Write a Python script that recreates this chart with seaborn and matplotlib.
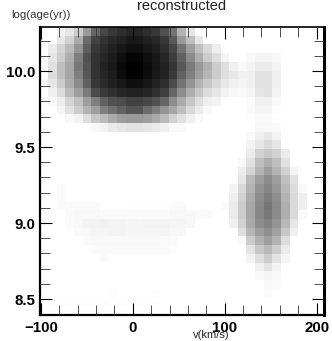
import numpy as np
import pandas as pd
import matplotlib
matplotlib.use("Agg")
import matplotlib.pyplot as plt
import seaborn as sns

sns.set_style("white")
plt.rcParams['font.family'] = ['Liberation Sans', 'DejaVu Sans']

title = "reconstructed"
x_label = "v(km/s)"
y_label = "log(age(yr))"
x_major = [-100, 0, 100, 200]
x_major_labels = ["\u2212100", "0", "100", "200"]
y_major = [8.5, 9.0, 9.5, 10.0]
y_major_labels = ["8.5", "9.0", "9.5", "10.0"]
x_minor = [-80, -60, -40, -20, 20, 40, 60, 80, 120, 140, 160, 180]
y_minor = [8.6, 8.7, 8.8, 8.9, 9.1, 9.2, 9.3, 9.4, 9.6, 9.7, 9.8, 9.9, 10.1, 10.2]
x_range = [-101.5, 208.0]
y_range = [8.395, 10.29]

# darkness percent per cell, top row first
darkness = [
 [0,0,5,10,20,40,60,72,78,82,85,85,82,78,68,55,30,10,0,0,0,0,0,0,0,0,0,0,0,0,0,0,0],
 [0,0,10,18,33,58,74,80,84,87,90,90,87,84,78,65,40,25,10,0,0,0,0,0,0,0,0,0,0,0,0,0,0],
 [0,8,17,27,42,63,78,83,87,91,94,94,91,88,82,72,55,38,25,15,7,0,0,0,0,0,0,0,0,0,0,0,0],
 [0,10,20,32,50,68,80,85,89,94,98,98,94,90,85,76,62,45,32,20,13,5,0,0,3,4,4,3,0,0,0,0,0],
 [0,12,25,35,53,67,80,86,90,96,100,100,96,91,87,79,66,52,40,31,20,13,6,3,5,8,8,4,0,0,0,0,0],
 [0,14,25,35,50,66,80,85,89,95,99,99,95,90,86,77,62,50,38,29,20,13,9,6,6,12,12,6,0,0,0,0,0],
 [3,10,20,33,45,62,78,83,87,91,94,94,91,87,82,70,55,42,30,22,15,9,6,5,6,12,12,6,0,0,0,0,0],
 [0,6,14,27,38,52,70,77,81,85,87,87,85,81,75,60,45,32,22,14,10,5,3,2,4,10,12,5,0,0,0,0,0],
 [0,3,7,17,25,38,50,62,68,70,74,74,72,68,60,45,33,22,13,7,5,0,0,0,2,6,6,3,0,0,0,0,0],
 [0,0,4,12,20,30,38,50,56,62,67,67,58,50,42,35,25,15,8,3,0,0,0,0,2,4,4,1,0,0,0,0,0],
 [0,0,0,3,5,13,22,27,33,38,40,40,38,33,27,18,12,6,2,0,0,0,0,0,1,2,2,0,0,0,0,0,0],
 [0,0,0,0,0,0,3,5,8,10,11,11,10,8,6,3,2,0,0,0,0,0,0,0,0,3,3,2,0,0,0,0,0],
 [0,0,0,0,0,0,0,0,0,0,0,0,0,0,0,0,0,0,0,0,0,0,0,0,2,6,9,5,0,0,0,0,0],
 [0,0,0,0,0,0,0,0,0,0,0,0,0,0,0,0,0,0,0,0,0,0,0,0,5,10,15,10,0,0,0,0,0],
 [0,0,0,0,0,0,0,0,0,0,0,0,0,0,0,0,0,0,0,0,0,0,0,0,8,18,22,18,8,0,0,0,0],
 [0,0,0,0,0,0,0,0,0,0,0,0,0,0,0,0,0,0,0,0,0,0,0,3,12,25,32,25,12,0,0,0,0],
 [0,0,0,0,0,0,0,0,0,0,0,0,0,0,0,0,0,0,0,0,0,0,0,7,17,30,38,30,18,5,0,0,0],
 [0,0,0,0,0,0,0,0,0,0,0,0,0,0,0,0,0,0,0,0,0,0,0,10,27,38,45,38,25,12,0,0,0],
 [0,0,2,0,0,0,0,0,0,0,0,0,0,0,0,0,0,0,0,0,0,0,5,15,30,42,48,41,28,14,3,0,0],
 [0,0,2,0,0,0,0,0,0,0,0,0,0,0,0,0,0,0,0,0,0,0,7,18,33,45,51,44,30,15,7,0,0],
 [0,1,2,2,2,2,2,0,0,0,1,1,1,1,1,2,2,0,0,0,0,2,8,20,35,47,54,46,32,15,7,0,0],
 [0,0,0,2,3,3,3,2,2,2,2,2,2,2,2,3,3,3,2,2,0,0,8,20,35,47,53,46,32,15,2,0,0],
 [0,0,0,2,3,5,5,6,5,5,4,4,5,5,5,4,4,3,0,0,0,0,6,18,34,45,49,42,28,10,0,0,0],
 [0,0,0,0,2,3,4,4,5,5,4,4,4,4,4,3,3,0,0,0,0,0,0,13,29,39,44,37,22,6,0,0,0],
 [0,0,0,0,0,2,3,3,3,3,3,3,3,3,2,2,0,0,0,0,0,0,0,3,20,31,38,30,14,0,0,0,0],
 [0,0,0,0,0,0,2,2,2,2,2,2,2,2,2,1,0,0,0,0,0,0,0,0,11,22,28,20,8,0,0,0,0],
 [0,0,0,0,0,0,0,2,0,0,0,0,0,0,0,0,0,0,0,0,0,0,0,0,5,13,20,11,4,0,0,0,0],
 [0,0,0,0,0,0,0,0,0,0,0,0,0,0,0,0,0,0,0,0,0,0,0,0,0,6,11,5,0,0,0,0,0],
 [0,0,0,0,0,0,0,0,0,0,0,0,0,0,0,0,0,0,0,0,0,0,0,0,0,3,4,3,0,0,0,0,0],
 [0,0,0,0,0,0,0,0,0,0,0,0,0,0,0,0,0,0,0,0,0,0,0,0,0,0,3,2,0,0,0,0,0],
 [0,0,0,0,0,0,0,0,1,0,0,0,0,1,0,0,0,0,0,0,0,0,0,0,0,0,2,0,0,0,0,0,0],
 [0,1,1,1,1,1,1,1,1,1,1,1,1,0,0,0,0,0,0,0,0,0,0,0,0,0,0,0,0,0,0,0,0],
 [0,0,0,0,0,0,0,0,0,0,0,0,0,0,0,0,0,0,0,0,0,0,0,0,0,0,0,0,0,0,0,0,0],
]

frame = pd.DataFrame(darkness)
n_rows, n_cols = frame.shape

W, H = 332, 341
fig = plt.figure(figsize=(W / 100, H / 100), dpi=100)
ax = fig.add_axes([39.5 / W, 1 - 315 / H, (324 - 39.5) / W, (315 - 27) / H])
sns.heatmap(frame, ax=ax, cmap="gray_r", vmin=0, vmax=100, cbar=False,
            xticklabels=False, yticklabels=False, square=False, linewidths=0, rasterized=True)


def xpos(v):
    return (np.asarray(v, float) - x_range[0]) / (x_range[1] - x_range[0]) * n_cols


def ypos(v):
    return (y_range[1] - np.asarray(v, float)) / (y_range[1] - y_range[0]) * n_rows


ax.set_axisbelow(False)
ax.set_xticks(xpos(x_major))
ax.set_xticklabels(x_major_labels, fontsize=10.8, fontweight="bold", color="black")
ax.set_yticks(ypos(y_major))
ax.set_yticklabels(y_major_labels, fontsize=10.8, fontweight="bold", rotation=0, color="black")
ax.set_xticks(xpos(x_minor), minor=True)
ax.set_yticks(ypos(y_minor), minor=True)
ax.tick_params(which="major", direction="in", length=8.5, width=0.8, top=True, right=True,
               bottom=True, left=True, color="black", pad=3)
ax.tick_params(which="minor", direction="in", length=7.5, width=0.6, top=True, right=True,
               bottom=True, left=True, color="#333333")
ax.tick_params(axis="x", which="major", pad=4)
for name, width in zip(["left", "bottom", "right", "top"], [1.6, 1.6, 2.2, 1.2]):
    ax.spines[name].set_visible(True)
    ax.spines[name].set_linewidth(width)
    ax.spines[name].set_color("black")

fig.text(182 / W, 1 - 10.5 / H, title, ha="center", va="baseline", fontsize=10.5, color="#222222")
fig.text(40.5 / W, 1 - 15 / H, y_label, ha="center", va="center", fontsize=8.2, color="#333333")
fig.text(211 / W, 1 - 335 / H, x_label, ha="center", va="center", fontsize=8, color="#222222")

fig.savefig("out.png", dpi=100)
